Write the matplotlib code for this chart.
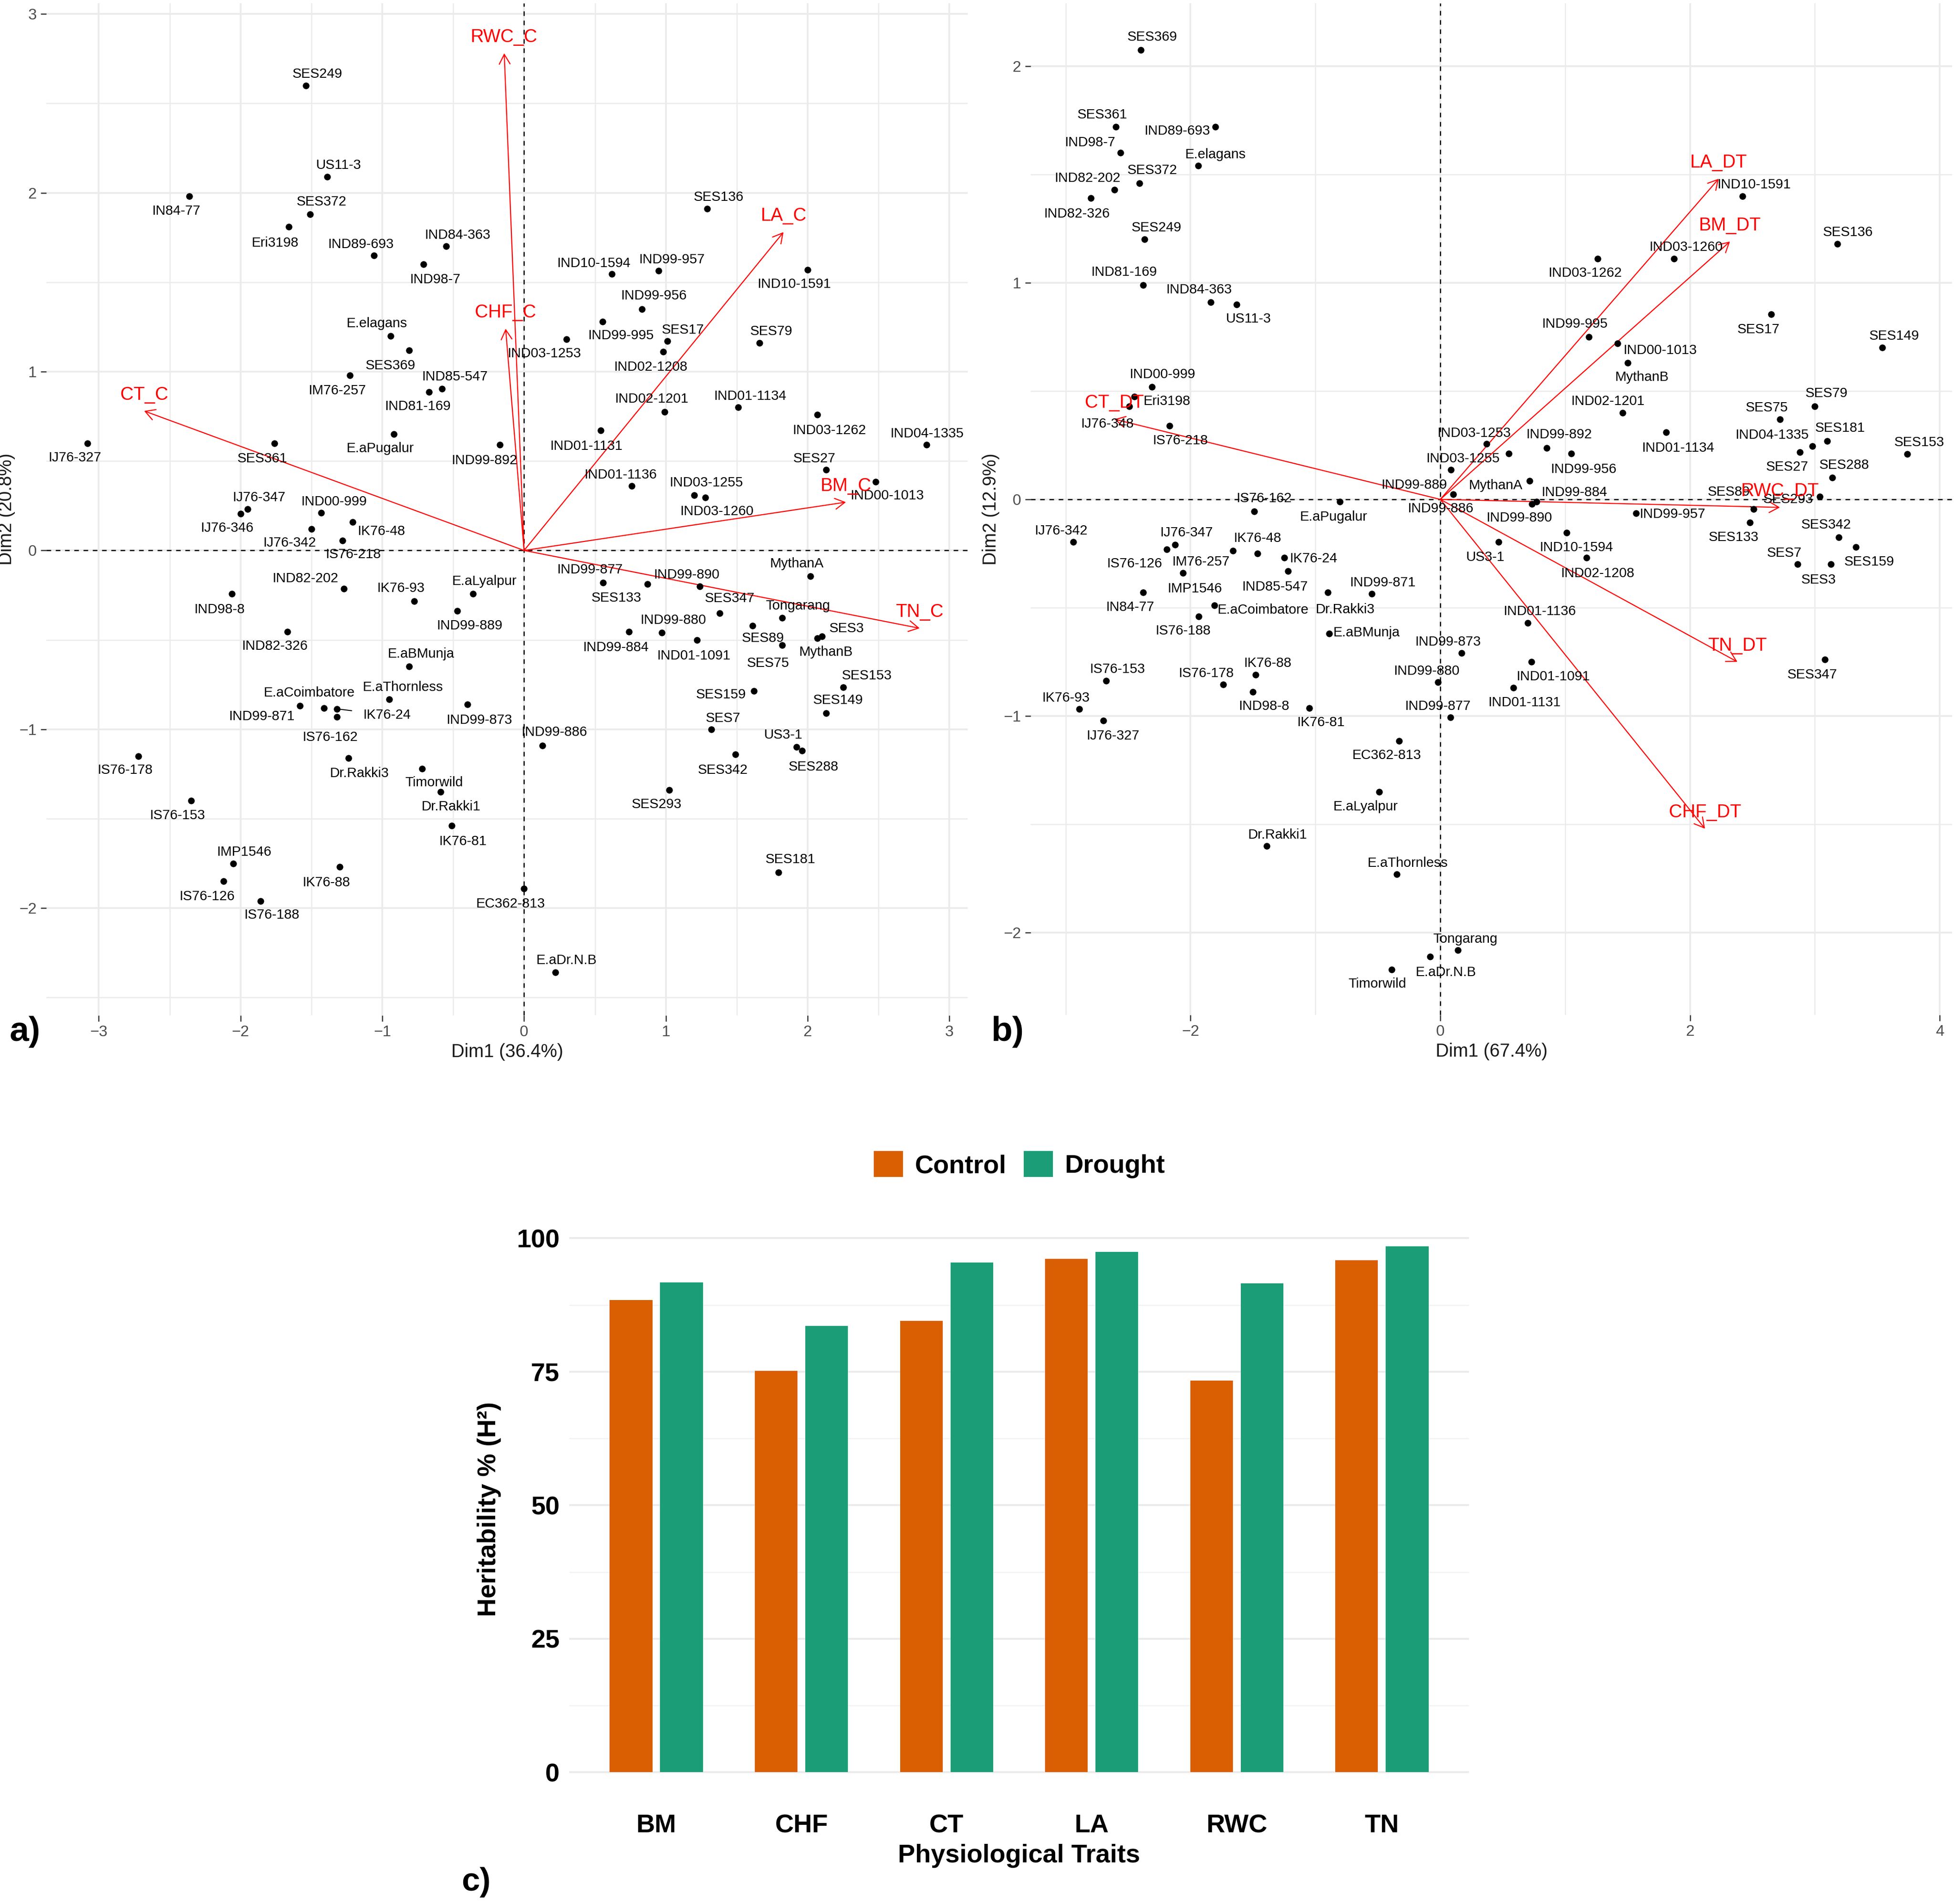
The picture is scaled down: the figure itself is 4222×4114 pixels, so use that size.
import numpy as np
import matplotlib
matplotlib.use('Agg')
import matplotlib.pyplot as plt
from matplotlib.ticker import MultipleLocator
from matplotlib.patches import Patch

plt.rcParams['font.family'] = ['Liberation Sans', 'DejaVu Sans']

# ---------------- data: panel a (PCA, control) ----------------
a_names = ['SES249', 'US11-3', 'IN84-77', 'SES372', 'Eri3198', 'IND89-693', 'IND84-363', 'IND98-7',
           'E.elagans', 'SES369', 'IM76-257', 'IND85-547', 'IND81-169', 'E.aPugalur', 'IND99-892',
           'IJ76-327', 'SES361', 'IJ76-347', 'IJ76-346', 'IND00-999', 'IK76-48', 'IJ76-342', 'IS76-218',
           'SES136', 'IND10-1594', 'IND99-957', 'IND10-1591', 'IND99-956', 'IND99-995', 'IND03-1253',
           'SES17', 'IND02-1208', 'SES79', 'IND02-1201', 'IND01-1134', 'IND03-1262', 'IND04-1335',
           'IND01-1131', 'SES27', 'IND00-1013', 'IND01-1136', 'IND03-1255', 'IND03-1260',
           'IND82-202', 'IND98-8', 'IK76-93', 'E.aLyalpur', 'IND99-889', 'IND82-326', 'E.aBMunja',
           'E.aThornless', 'IND99-873', 'E.aCoimbatore', 'IND99-871', 'IK76-24', 'IS76-162', 'IS76-178',
           'Dr.Rakki3', 'Timorwild', 'Dr.Rakki1', 'IS76-153', 'IK76-81', 'IMP1546', 'IK76-88', 'IS76-126',
           'IS76-188', 'EC362-813', 'IND99-877', 'SES133', 'IND99-890', 'MythanA', 'SES347', 'Tongarang',
           'SES89', 'IND99-884', 'IND99-880', 'IND01-1091', 'SES3', 'MythanB', 'SES75', 'SES153', 'SES159',
           'SES149', 'SES7', 'IND99-886', 'US3-1', 'SES288', 'SES342', 'SES293', 'SES181', 'E.aDr.N.B']
a_x = [-1.54, -1.39, -2.36, -1.51, -1.66, -1.06, -0.55, -0.71,
       -0.94, -0.81, -1.23, -0.58, -0.67, -0.92, -0.17,
       -3.08, -1.76, -1.95, -2.00, -1.43, -1.21, -1.50, -1.28,
       1.29, 0.62, 0.95, 2.00, 0.83, 0.555, 0.30,
       1.01, 0.98, 1.66, 0.99, 1.51, 2.07, 2.84,
       0.54, 2.13, 2.48, 0.76, 1.20, 1.28,
       -1.27, -2.06, -0.775, -0.36, -0.47, -1.67, -0.81,
       -0.95, -0.40, -1.41, -1.58, -1.32, -1.32, -2.72,
       -1.24, -0.72, -0.59, -2.35, -0.51, -2.05, -1.30, -2.12,
       -1.86, 0.0, 0.557, 0.87, 1.24, 2.02, 1.38, 1.82,
       1.61, 0.74, 0.97, 1.22, 2.10, 2.07, 1.82, 2.25, 1.62,
       2.13, 1.32, 0.13, 1.92, 1.96, 1.49, 1.025, 1.795, 0.22]
a_y = [2.60, 2.09, 1.98, 1.88, 1.81, 1.65, 1.70, 1.60,
       1.20, 1.12, 0.98, 0.905, 0.885, 0.65, 0.59,
       0.60, 0.60, 0.23, 0.205, 0.21, 0.16, 0.12, 0.055,
       1.91, 1.545, 1.565, 1.57, 1.35, 1.28, 1.18,
       1.17, 1.11, 1.16, 0.775, 0.80, 0.76, 0.59,
       0.67, 0.45, 0.385, 0.36, 0.31, 0.295,
       -0.213, -0.242, -0.283, -0.242, -0.337, -0.455, -0.648,
       -0.833, -0.862, -0.882, -0.868, -0.886, -0.93, -1.15,
       -1.16, -1.22, -1.35, -1.40, -1.54, -1.75, -1.77, -1.85,
       -1.96, -1.89, -0.179, -0.187, -0.20, -0.144, -0.352, -0.378,
       -0.42, -0.455, -0.46, -0.50, -0.48, -0.49, -0.53, -0.764, -0.785,
       -0.91, -1.00, -1.09, -1.10, -1.12, -1.14, -1.34, -1.80, -2.36]
a_vars = ['CT_C', 'RWC_C', 'CHF_C', 'LA_C', 'BM_C', 'TN_C']
a_vx = [-2.68, -0.14, -0.13, 1.83, 2.27, 2.79]
a_vy = [0.78, 2.78, 1.24, 1.78, 0.27, -0.435]

# ---------------- data: panel b (PCA, drought) ----------------
b_names = ['SES369', 'SES361', 'IND89-693', 'IND98-7', 'E.elagans', 'SES372', 'IND82-202', 'IND82-326',
           'SES249', 'IND81-169', 'IND84-363', 'US11-3', 'IND00-999', 'Eri3198', 'IJ76-348', 'IS76-218',
           'IS76-162', 'E.aPugalur', 'IND03-1253', 'IND03-1255', 'IND99-889', 'IND99-886', 'IND99-892',
           'IND99-956', 'MythanA', 'IND99-884', 'IND99-890', 'IND10-1594', 'US3-1', 'IND02-1208',
           'IND99-957', 'IND10-1591', 'SES136', 'IND03-1260', 'IND03-1262', 'SES17', 'SES149',
           'IND99-995', 'IND00-1013', 'MythanB', 'IND02-1201', 'SES79', 'SES75', 'IND01-1134',
           'IND04-1335', 'SES27', 'SES181', 'SES153', 'SES288', 'SES89', 'SES293', 'SES133', 'SES342',
           'SES159', 'SES7', 'SES3', 'IND01-1136', 'IND99-873', 'IND01-1091', 'IND01-1131', 'IND99-877',
           'SES347', 'IJ76-342', 'IJ76-347', 'IS76-126', 'IK76-48', 'IM76-257', 'IMP1546', 'IK76-24',
           'IND85-547', 'IN84-77', 'Dr.Rakki3', 'IND99-871', 'E.aCoimbatore', 'IS76-188', 'E.aBMunja',
           'IK76-88', 'IS76-178', 'IS76-153', 'IND99-880', 'IND98-8', 'IK76-93', 'IK76-81', 'IJ76-327',
           'EC362-813', 'E.aLyalpur', 'Dr.Rakki1', 'E.aThornless', 'Tongarang', 'E.aDr.N.B', 'Timorwild']
b_x = [-2.40, -2.60, -1.80, -2.56, -1.94, -2.41, -2.61, -2.80,
       -2.37, -2.38, -1.84, -1.63, -2.31, -2.45, -2.49, -2.17,
       -1.49, -0.805, 0.37, 0.55, 0.084, 0.105, 0.854,
       1.05, 0.716, 0.77, 0.735, 1.01, 0.467, 1.17,
       1.566, 2.42, 3.18, 1.87, 1.26, 2.65, 3.54,
       1.19, 1.42, 1.50, 1.46, 3.00, 2.72, 1.81,
       2.98, 2.88, 3.10, 3.74, 3.14, 2.51, 3.04, 2.48, 3.19,
       3.33, 2.86, 3.13, 0.70, 0.17, 0.73, 0.585, 0.08,
       3.08, -2.94, -2.125, -2.19, -1.465, -1.66, -2.06, -1.25,
       -1.22, -2.38, -0.90, -0.55, -1.81, -1.935, -0.89,
       -1.48, -1.74, -2.675, -0.02, -1.50, -2.89, -1.05, -2.70,
       -0.33, -0.49, -1.39, -0.35, 0.14, -0.08, -0.39]
b_y = [2.075, 1.72, 1.72, 1.60, 1.54, 1.46, 1.43, 1.39,
       1.20, 0.99, 0.91, 0.90, 0.52, 0.475, 0.43, 0.34,
       -0.056, -0.01, 0.256, 0.211, 0.137, 0.023, 0.238,
       0.211, 0.085, -0.011, -0.021, -0.153, -0.197, -0.27,
       -0.063, 1.40, 1.18, 1.11, 1.11, 0.854, 0.70,
       0.75, 0.72, 0.63, 0.40, 0.43, 0.37, 0.31,
       0.246, 0.218, 0.27, 0.21, 0.10, -0.044, 0.012, -0.107, -0.175,
       -0.22, -0.30, -0.30, -0.57, -0.71, -0.75, -0.87, -1.007,
       -0.74, -0.197, -0.21, -0.23, -0.25, -0.238, -0.34, -0.27,
       -0.33, -0.43, -0.43, -0.435, -0.49, -0.54, -0.62,
       -0.81, -0.854, -0.837, -0.844, -0.888, -0.968, -0.963, -1.02,
       -1.115, -1.35, -1.60, -1.73, -2.08, -2.11, -2.17]
b_vars = ['LA_DT', 'BM_DT', 'RWC_DT', 'TN_DT', 'CHF_DT', 'CT_DT']
b_vx = [2.23, 2.32, 2.72, 2.38, 2.12, -2.61]
b_vy = [1.48, 1.19, -0.037, -0.75, -1.52, 0.37]

# ---------------- data: panel c (heritability) ----------------
traits = ['BM', 'CHF', 'CT', 'LA', 'RWC', 'TN']
h2_control = [88.4, 75.2, 84.5, 96.1, 73.3, 95.9]
h2_drought = [91.7, 83.6, 95.4, 97.4, 91.5, 98.5]

# ---------------- label placement (offset points, like ggrepel) ----------------
a_off = {
    'SES249': (6, 6), 'US11-3': (6, 6), 'IN84-77': (-7, -7.5), 'SES372': (6, 6.4), 'Eri3198': (-7, -8.3),
    'IND89-693': (-6.7, 5.7), 'IND84-363': (6, 5.9), 'IND98-7': (6, -8), 'E.elagans': (-7.2, 6.4),
    'SES369': (-9.8, -7.9), 'IM76-257': (-6.6, -7.9), 'IND85-547': (6.7, 6.1), 'IND81-169': (-5.9, -7.4),
    'E.aPugalur': (-6.9, -7.4), 'IND99-892': (-8, -8), 'IJ76-327': (-6.6, -7.5), 'SES361': (-6.4, -8.1),
    'IJ76-347': (5.9, 6.1), 'IJ76-346': (-7.1, -7.5), 'IND00-999': (6.4, 5.9), 'IK76-48': (15, -5),
    'IJ76-342': (-11.3, -7.2), 'IS76-218': (5.6, -7.2), 'SES136': (6, 6.1), 'IND10-1594': (-9.4, 5.7),
    'IND99-957': (6.7, 5.7), 'IND10-1591': (-7, -7.5), 'IND99-956': (6.2, 6.8), 'IND99-995': (9.4, -7.3),
    'IND03-1253': (-11.7, -7.3), 'SES17': (8, 5.9), 'IND02-1208': (-6.5, -7.7), 'SES79': (6.2, 6.1),
    'IND02-1201': (-6.7, 6.6), 'IND01-1134': (6.2, 5.9), 'IND03-1262': (6.2, -8.3), 'IND04-1335': (0, 5.9),
    'IND01-1131': (-7.5, -8.1), 'SES27': (-6, 5.9), 'IND00-1013': (6, -7.3), 'IND01-1136': (-5.8, 5.9),
    'IND03-1255': (6.2, 6.4), 'IND03-1260': (5.8, -7.2), 'IND82-202': (-20, 5.3), 'IND98-8': (-6.5, -8.1),
    'IK76-93': (-6.9, 6.6), 'E.aLyalpur': (5.8, 6.4), 'IND99-889': (6.2, -7.7), 'IND82-326': (-6.5, -7.5),
    'E.aBMunja': (6.2, 6.4), 'E.aThornless': (6.9, 6.4), 'IND99-873': (6.2, -8.1),
    'E.aCoimbatore': (-7.7, 7.9), 'IND99-871': (-20, -5.6), 'IK76-24': (26, -3.2), 'IS76-162': (-3.5, -10.7),
    'IS76-178': (-6.9, -7.3), 'Dr.Rakki3': (5.8, -7.9), 'Timorwild': (6.2, -7.3), 'Dr.Rakki1': (5.6, -7.7),
    'IS76-153': (-7, -7.5), 'IK76-81': (5.6, -8.1), 'IMP1546': (5.6, 5.8), 'IK76-88': (-7, -8.1),
    'IS76-126': (-8.6, -7.9), 'IS76-188': (5.8, -7.3), 'EC362-813': (-7, -8), 'IND99-877': (-6.9, 6.6),
    'SES133': (-16, -7.2), 'IND99-890': (-6.9, 5.8), 'MythanA': (-7, 6.4), 'SES347': (5.2, 7.7),
    'Tongarang': (8.2, 6.4), 'SES89': (5.4, -6.6), 'IND99-884': (-6.9, -8.1), 'IND99-880': (5.9, 6.6),
    'IND01-1091': (-1.8, -8.3), 'SES3': (13, 4.1), 'MythanB': (4.3, -7.3), 'SES75': (-7.2, -9.4),
    'SES153': (12.4, 6), 'SES159': (-17, -1.9), 'SES149': (6.2, 6.8), 'SES7': (6.1, 5.8),
    'IND99-886': (6.1, 6.8), 'US3-1': (-6.7, 6.4), 'SES288': (6.1, -8.3), 'SES342': (-6.6, -8.1),
    'SES293': (-6.6, -7.5), 'SES181': (6.1, 6.6), 'E.aDr.N.B': (5.9, 6.4),
}
b_off = {
    'SES369': (6, 6.7), 'SES361': (-6.8, 6.3), 'IND89-693': (-20, -2.3), 'IND98-7': (-16, 5.3),
    'E.elagans': (9.1, 5.8), 'SES372': (6.8, 6.5), 'IND82-202': (-14, 6), 'IND82-326': (-7.3, -8.1),
    'SES249': (6.2, 6), 'IND81-169': (-9.9, 6.5), 'IND84-363': (-6, 6.5), 'US11-3': (6.2, -7.6),
    'IND00-999': (5.5, 6.5), 'Eri3198': (16.9, -2.6), 'IJ76-348': (-11.4, -9.3), 'IS76-218': (5.7, -7.6),
    'IS76-162': (5, 6.7), 'E.aPugalur': (-3.2, -8.1), 'IND03-1253': (-6.4, 5.6), 'IND03-1255': (-24, -2.6),
    'IND99-889': (-19, -8), 'IND99-886': (-6.8, -7.4), 'IND99-892': (6.2, 6.8), 'IND99-956': (6.4, -8.2),
    'MythanA': (-17.6, -2.4), 'IND99-884': (19.6, 4.8), 'IND99-890': (-6.8, -7.2), 'IND10-1594': (5.2, -7.7),
    'US3-1': (-6.9, -7.8), 'IND02-1208': (5.9, -8), 'IND99-957': (18.9, -0.5), 'IND10-1591': (5.9, 5.8),
    'SES136': (5.4, 5.8), 'IND03-1260': (6.2, 6), 'IND03-1262': (-6.6, -7.4), 'SES17': (-6.6, -7.9),
    'SES149': (6.2, 6), 'IND99-995': (-7.4, 6.7), 'IND00-1013': (21.9, -3.5), 'MythanB': (7.4, -7.4),
    'IND02-1201': (-7.6, 6), 'SES79': (6.1, 6.7), 'SES75': (-6.7, 6), 'IND01-1134': (6.1, -8.1),
    'IND04-1335': (-20.9, 5.8), 'SES27': (-6.6, -7.6), 'SES181': (6.6, 6.7), 'SES153': (6.1, 6),
    'SES288': (6.1, 6.5), 'SES89': (-13, 8.8), 'SES293': (-16.4, -1.4), 'SES133': (-8.6, -7.7),
    'SES342': (-6.4, 6.5), 'SES159': (6.7, -7.7), 'SES7': (-6.9, 5.9), 'SES3': (-6.6, -8),
    'IND01-1136': (6.1, 5.9), 'IND99-873': (-7.1, 5.9), 'IND01-1091': (11.3, -7.7), 'IND01-1131': (5.7, -7.7),
    'IND99-877': (-6.6, 5.9), 'SES347': (-6.6, -7.7), 'IJ76-342': (-6.2, 5.9), 'IJ76-347': (5.9, 6.3),
    'IS76-126': (-16.8, -7.5), 'IK76-48': (0, 8), 'IM76-257': (-16.7, -5.7), 'IMP1546': (6.1, -8.2),
    'IK76-24': (15.2, -0.4), 'IND85-547': (-6.7, -8.2), 'IN84-77': (-6.9, -7.5), 'Dr.Rakki3': (8.9, -8.8),
    'IND99-871': (5.7, 5.7), 'E.aCoimbatore': (25.4, -2.3), 'IS76-188': (-8.2, -7.5), 'E.aBMunja': (19.4, 0.6),
    'IK76-88': (6.2, 6.1), 'IS76-178': (-8.8, 5.7), 'IS76-153': (5.7, 5.9), 'IND99-880': (-5.9, 5.7),
    'IND98-8': (5.6, -7.5), 'IK76-93': (-7.1, 5.7), 'IK76-81': (6.1, -7.5), 'IJ76-327': (5.1, -8),
    'EC362-813': (-6.4, -7.5), 'E.aLyalpur': (-7.1, -7.7), 'Dr.Rakki1': (5.6, 5.7), 'E.aThornless': (5.7, 5.7),
    'Tongarang': (3.9, 5.7), 'E.aDr.N.B': (8.1, -8.2), 'Timorwild': (-7.4, -7.5),
}
a_seg = ['IK76-24']
b_seg = ['SES89']


def biplot(ax, names, xs, ys, vnames, vx, vy, offs, seg, xlim, ylim, xstep, ystep, xlab, ylab):
    ax.set_xlim(xlim)
    ax.set_ylim(ylim)
    ax.xaxis.set_major_locator(MultipleLocator(xstep))
    ax.xaxis.set_minor_locator(MultipleLocator(xstep / 2))
    ax.yaxis.set_major_locator(MultipleLocator(ystep))
    ax.yaxis.set_minor_locator(MultipleLocator(ystep / 2))
    ax.grid(which='major', color='#EBEBEB', lw=0.9)
    ax.grid(which='minor', color='#EBEBEB', lw=0.6)
    ax.set_axisbelow(True)
    for s in ax.spines.values():
        s.set_visible(False)
    ax.tick_params(which='major', length=3, width=0.6, color='#333333',
                   labelsize=8, labelcolor='#4D4D4D', pad=2)
    ax.tick_params(which='minor', length=0)
    ax.axhline(0, color='black', ls=(0, (4, 4)), lw=0.6, zorder=1)
    ax.axvline(0, color='black', ls=(0, (4, 4)), lw=0.6, zorder=1)
    ax.scatter(xs, ys, s=12, color='black', linewidths=0, zorder=3)
    for n, x, y in zip(names, xs, ys):
        dx, dy = offs.get(n, (0, 6))
        kw = {}
        if n in seg:
            kw['arrowprops'] = dict(arrowstyle='-', lw=0.5, color='black', shrinkA=4, shrinkB=1)
        ax.annotate(n, (x, y), xytext=(dx, dy), textcoords='offset points',
                    ha='center', va='center', fontsize=7.1, color='black', zorder=4, **kw)
    for v, x, y in zip(vnames, vx, vy):
        ax.annotate('', xy=(x, y), xytext=(0, 0),
                    arrowprops=dict(arrowstyle='->,head_length=0.5,head_width=0.28', color='red',
                                    lw=0.55, shrinkA=0, shrinkB=0, mutation_scale=10), zorder=2)
        ax.annotate(v, (x, y), xytext=(0, 8.5), textcoords='offset points',
                    ha='center', va='center', fontsize=9.5, color='red', zorder=5)
    ax.set_xlabel(xlab, fontsize=9.5, color='#1A1A1A', labelpad=2)
    ax.set_ylabel(ylab, fontsize=9.5, color='#1A1A1A', labelpad=2)


fig = plt.figure(figsize=(4222 / 300, 4114 / 300), dpi=300)

ax_a = fig.add_axes([0.0237, 0.4667, 0.4716, 0.5316])
biplot(ax_a, a_names, a_x, a_y, a_vars, a_vx, a_vy, a_off, a_seg,
       (-3.37, 3.13), (-2.60, 3.06), 1, 1, 'Dim1 (36.4%)', 'Dim2 (20.8%)')

ax_b = fig.add_axes([0.5275, 0.4669, 0.4716, 0.5314])
biplot(ax_b, b_names, b_x, b_y, b_vars, b_vx, b_vy, b_off, b_seg,
       (-3.28, 4.10), (-2.38, 2.29), 2, 1, 'Dim1 (67.4%)', 'Dim2 (12.9%)')

fig.text(0.0128, 0.458, 'a)', fontsize=18, fontweight='bold', ha='center', va='center')
fig.text(0.5154, 0.458, 'b)', fontsize=18, fontweight='bold', ha='center', va='center')

# ---------------- panel c ----------------
csize = 13.4
ax_c = fig.add_axes([0.2913, 0.0554, 0.4605, 0.3039])
xpos = np.arange(len(traits))
ax_c.bar(xpos - 0.174, h2_control, width=0.294, color='#D95F02', zorder=2)
ax_c.bar(xpos + 0.174, h2_drought, width=0.294, color='#1B9E77', zorder=2)
ax_c.set_xlim(-0.6, len(traits) - 0.4)
ax_c.set_ylim(-4.93, 103.43)
ax_c.yaxis.set_major_locator(MultipleLocator(25))
ax_c.yaxis.set_minor_locator(MultipleLocator(12.5))
ax_c.grid(axis='y', which='major', color='#EBEBEB', lw=1.0, zorder=0)
ax_c.grid(axis='y', which='minor', color='#F2F2F2', lw=0.6, zorder=0)
ax_c.set_axisbelow(True)
for s in ax_c.spines.values():
    s.set_visible(False)
ax_c.set_xticks(xpos)
ax_c.set_xticklabels(traits)
ax_c.tick_params(which='both', length=0)
ax_c.tick_params(axis='x', pad=8)
ax_c.tick_params(axis='y', pad=5)
for lab in ax_c.get_xticklabels() + ax_c.get_yticklabels():
    lab.set_fontsize(csize)
    lab.set_fontweight('bold')
    lab.set_color('black')
ax_c.set_xlabel('Physiological Traits', fontsize=csize, fontweight='bold', labelpad=3)
ax_c.set_ylabel('Heritability % (H²)', fontsize=csize, fontweight='bold', labelpad=8)

handles = [Patch(color='#D95F02', label='Control'), Patch(color='#1B9E77', label='Drought')]
fig.legend(handles=handles, loc='center', bbox_to_anchor=(0.522, 0.388), ncol=2, frameon=False,
           prop={'size': csize, 'weight': 'bold'},
           handlelength=1.05, handleheight=1.05, handletextpad=0.5, columnspacing=0.7)

fig.text(0.2437, 0.0115, 'c)', fontsize=17, fontweight='bold', ha='center', va='center')

fig.savefig('out.png', dpi=300)
